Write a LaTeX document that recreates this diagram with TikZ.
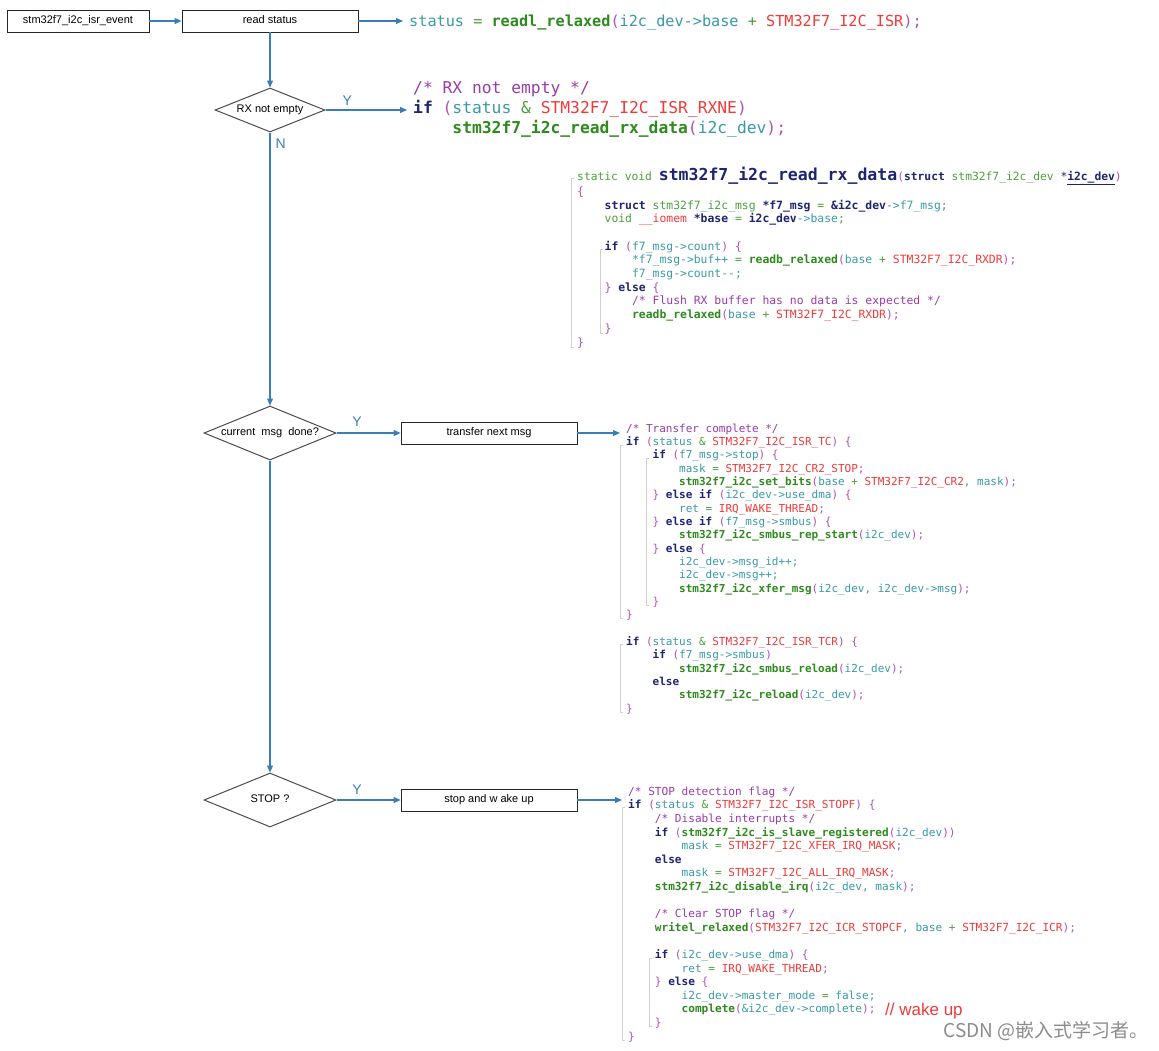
\documentclass[tikz,border=0pt]{standalone}
\usepackage{fontspec}
\setsansfont{Liberation Sans}
\newfontfamily\codefont{DejaVu Sans Mono}
\newfontfamily\cjkfont{Noto Sans CJK SC}
\usetikzlibrary{shapes.geometric,arrows.meta}
\frenchspacing

\definecolor{flowc}{HTML}{3A7EB8}
\definecolor{kwc}{HTML}{1E2470}
\definecolor{fnc}{HTML}{2E8A1E}
\definecolor{vac}{HTML}{3A9AA6}
\definecolor{cnc}{HTML}{F03A3A}
\definecolor{cmc}{HTML}{9A3CA8}
\definecolor{pac}{HTML}{B050B8}
\definecolor{opc}{HTML}{4CA03C}

\newcommand\Kw[1]{{\color{kwc}\bfseries #1}}
\newcommand\Fn[1]{{\color{fnc}\bfseries #1}}
\newcommand\Cn[1]{{\color{cnc}#1}}
\newcommand\Cm[1]{{\color{cmc}#1}}
\newcommand\Pa[1]{{\color{pac}#1}}
\newcommand\Op[1]{{\color{opc}#1}}
\newcommand\Tab{\hspace*{2.408em}}

\tikzset{
  box/.style={draw=black!85, line width=0.8pt, minimum width=176, minimum height=22,
    inner sep=2, text height=8, text depth=2.5, font=\sffamily\fontsize{11}{13}\selectfont},
  decision/.style={diamond, draw=black!70, line width=1pt, inner sep=0,
    text height=8, text depth=2.5, font=\sffamily\fontsize{11}{13}\selectfont},
  flow/.style={draw=flowc, line width=1.1pt, -{Triangle[length=7pt,width=6pt]}},
  lbl/.style={text=flowc, font=\sffamily\fontsize{14}{16}\selectfont, inner sep=0},
  code/.style={anchor=north west, inner sep=0, align=left, text=vac},
  guide/.style={draw=black!18, line width=0.6pt}
}

\begin{document}
\begin{tikzpicture}[x=1pt, y=-1pt]
  \useasboundingbox[fill=white] (0,0) rectangle (1159,1050);

  \node[box, minimum width=142] (isr) at (78,21) {stm32f7\_i2c\_isr\_event};
  \node[box] (rd) at (270,21) {read status};
  \node[decision, aspect=2.5, minimum width=110, minimum height=44] (rxne) at (270,110) {RX not empty};
  \node[decision, aspect=2.44, minimum width=132, minimum height=54] (done) at (270,433) {current\ \ msg\ \ done?};
  \node[box] (next) at (489,433) {transfer next msg};
  \node[decision, aspect=2.44, minimum width=132, minimum height=54] (stop) at (270,800) {STOP ?};
  \node[box] (wake) at (489,800) {stop and w ake up};

  \node[code, anchor=base west, font=\codefont\fontsize{15.2}{18}\selectfont] (status) at (409,26.5)
    {status \Op{=} \Fn{readl\_relaxed}\Pa{(}i2c\_dev->base \Op{+} \Cn{STM32F7\_I2C\_ISR}\Pa{);}};

  \node[code, font=\codefont\fontsize{16.3}{20}\selectfont] (rxcode) at (413,81.5)
    {\Cm{/* RX not empty */}\\
     \Kw{if} \Pa{(}status \Op{\&} \Cn{STM32F7\_I2C\_ISR\_RXNE}\Pa{)}\\
     \Tab\Fn{stm32f7\_i2c\_read\_rx\_data}\Pa{(}i2c\_dev\Pa{);}};

  \node[code, anchor=base west, font=\codefont\fontsize{11.3}{13.7}\selectfont] (rdhead) at (577,180)
    {\Op{static void} {\fontsize{16.5}{18}\selectfont\Kw{stm32f7\_i2c\_read\_rx\_data}}\Pa{(}\Kw{struct} \Op{stm32f7\_i2c\_dev} {\color{kwc}*}\Kw{\underline{i2c\_dev}}\Pa{)}};

  \node[code, font=\codefont\fontsize{11.4}{13.7}\selectfont] (rdbody) at (577,186.5)
    {\Pa{\{}\\
     \Tab\Kw{struct} \Op{stm32f7\_i2c\_msg} \Kw{*f7\_msg} \Op{=} \Kw{\&i2c\_dev}->f7\_msg\Op{;}\\
     \Tab\Op{void} \Cn{\_\_iomem} \Kw{*base} \Op{=} \Kw{i2c\_dev}->base\Op{;}\\
     \mbox{}\\
     \Tab\Kw{if} \Pa{(}f7\_msg->count\Pa{)} \Pa{\{}\\
     \Tab\Tab*f7\_msg->buf++ \Op{=} \Fn{readb\_relaxed}\Pa{(}base \Op{+} \Cn{STM32F7\_I2C\_RXDR}\Pa{);}\\
     \Tab\Tab f7\_msg->count-{}-;\\
     \Tab\Pa{\}} \Kw{else} \Pa{\{}\\
     \Tab\Tab\Cm{/* Flush RX buffer has no data is expected */}\\
     \Tab\Tab\Fn{readb\_relaxed}\Pa{(}base \Op{+} \Cn{STM32F7\_I2C\_RXDR}\Pa{);}\\
     \Tab\Pa{\}}\\
     \Pa{\}}};

  \node[code, font=\codefont\fontsize{11}{13.33}\selectfont] (tccode) at (626,423.6)
    {\Cm{/* Transfer complete */}\\
     \Kw{if} \Pa{(}status \Op{\&} \Cn{STM32F7\_I2C\_ISR\_TC}\Pa{)} \Pa{\{}\\
     \Tab\Kw{if} \Pa{(}f7\_msg->stop\Pa{)} \Pa{\{}\\
     \Tab\Tab mask \Op{=} \Cn{STM32F7\_I2C\_CR2\_STOP}\Pa{;}\\
     \Tab\Tab\Fn{stm32f7\_i2c\_set\_bits}\Pa{(}base \Op{+} \Cn{STM32F7\_I2C\_CR2}, mask\Pa{);}\\
     \Tab\Pa{\}} \Kw{else if} \Pa{(}i2c\_dev->use\_dma\Pa{)} \Pa{\{}\\
     \Tab\Tab ret \Op{=} \Cn{IRQ\_WAKE\_THREAD}\Pa{;}\\
     \Tab\Pa{\}} \Kw{else if} \Pa{(}f7\_msg->smbus\Pa{)} \Pa{\{}\\
     \Tab\Tab\Fn{stm32f7\_i2c\_smbus\_rep\_start}\Pa{(}i2c\_dev\Pa{);}\\
     \Tab\Pa{\}} \Kw{else} \Pa{\{}\\
     \Tab\Tab i2c\_dev->msg\_id++;\\
     \Tab\Tab i2c\_dev->msg++;\\
     \Tab\Tab\Fn{stm32f7\_i2c\_xfer\_msg}\Pa{(}i2c\_dev, i2c\_dev->msg\Pa{);}\\
     \Tab\Pa{\}}\\
     \Pa{\}}\\
     \mbox{}\\
     \Kw{if} \Pa{(}status \Op{\&} \Cn{STM32F7\_I2C\_ISR\_TCR}\Pa{)} \Pa{\{}\\
     \Tab\Kw{if} \Pa{(}f7\_msg->smbus\Pa{)}\\
     \Tab\Tab\Fn{stm32f7\_i2c\_smbus\_reload}\Pa{(}i2c\_dev\Pa{);}\\
     \Tab\Kw{else}\\
     \Tab\Tab\Fn{stm32f7\_i2c\_reload}\Pa{(}i2c\_dev\Pa{);}\\
     \Pa{\}}};

  \node[code, font=\codefont\fontsize{11.1}{13.6}\selectfont] (stopcode) at (628,786.5)
    {\Cm{/* STOP detection flag */}\\
     \Kw{if} \Pa{(}status \Op{\&} \Cn{STM32F7\_I2C\_ISR\_STOPF}\Pa{)} \Pa{\{}\\
     \Tab\Cm{/* Disable interrupts */}\\
     \Tab\Kw{if} \Pa{(}\Fn{stm32f7\_i2c\_is\_slave\_registered}\Pa{(}i2c\_dev\Pa{))}\\
     \Tab\Tab mask \Op{=} \Cn{STM32F7\_I2C\_XFER\_IRQ\_MASK}\Pa{;}\\
     \Tab\Kw{else}\\
     \Tab\Tab mask \Op{=} \Cn{STM32F7\_I2C\_ALL\_IRQ\_MASK}\Pa{;}\\
     \Tab\Fn{stm32f7\_i2c\_disable\_irq}\Pa{(}i2c\_dev, mask\Pa{);}\\
     \mbox{}\\
     \Tab\Cm{/* Clear STOP flag */}\\
     \Tab\Fn{writel\_relaxed}\Pa{(}\Cn{STM32F7\_I2C\_ICR\_STOPCF}, base \Op{+} \Cn{STM32F7\_I2C\_ICR}\Pa{);}\\
     \mbox{}\\
     \Tab\Kw{if} \Pa{(}i2c\_dev->use\_dma\Pa{)} \Pa{\{}\\
     \Tab\Tab ret \Op{=} \Cn{IRQ\_WAKE\_THREAD}\Pa{;}\\
     \Tab\Pa{\}} \Kw{else} \Pa{\{}\\
     \Tab\Tab i2c\_dev->master\_mode \Op{=} false;\\
     \Tab\Tab\Fn{complete}\Pa{(}\&i2c\_dev->complete\Pa{);}\\
     \Tab\Pa{\}}\\
     \Pa{\}}};

  \node[anchor=base west, inner sep=0, text=cnc, font=\sffamily\fontsize{17}{20}\selectfont] (wakeup) at (885,1015) {// wake up};
  \node[anchor=base east, inner sep=0, text=black!45, font=\cjkfont\fontsize{19}{22}\selectfont] (mark) at (1149,1037) {CSDN @嵌入式学习者。};

  \draw[guide] (574,178) -- (571,178) -- (571,347) -- (574,347);
  \draw[guide] (603,249) -- (600,249) -- (600,333) -- (603,333);
  \draw[guide] (623,445) -- (620,445) -- (620,618) -- (623,618);
  \draw[guide] (649,458) -- (646,458) -- (646,605) -- (649,605);
  \draw[guide] (623,644) -- (620,644) -- (620,712) -- (623,712);
  \draw[guide] (625,807) -- (622,807) -- (622,1040) -- (625,1040);
  \draw[guide] (652,958) -- (649,958) -- (649,1026) -- (652,1026);

  \draw[flow] (isr) -- (rd);
  \draw[flow, shorten >=6pt] (rd) -- (rd -| status.west);
  \draw[flow] (rd) -- (rxne);
  \draw[flow, shorten >=6pt] (rxne) -- (rxne -| rxcode.west) node[lbl, pos=.25, above=4pt] {Y};
  \draw[flow] (rxne) -- (done) node[lbl, pos=.04, right=5pt] {N};
  \draw[flow] (done) -- (next) node[lbl, pos=.32, above=6pt] {Y};
  \draw[flow, shorten >=6pt] (next) -- (next -| tccode.west);
  \draw[flow] (done) -- (stop);
  \draw[flow] (stop) -- (wake) node[lbl, pos=.32, above=5pt] {Y};
  \draw[flow, shorten >=6pt] (wake) -- (wake -| stopcode.west);
\end{tikzpicture}
\end{document}
